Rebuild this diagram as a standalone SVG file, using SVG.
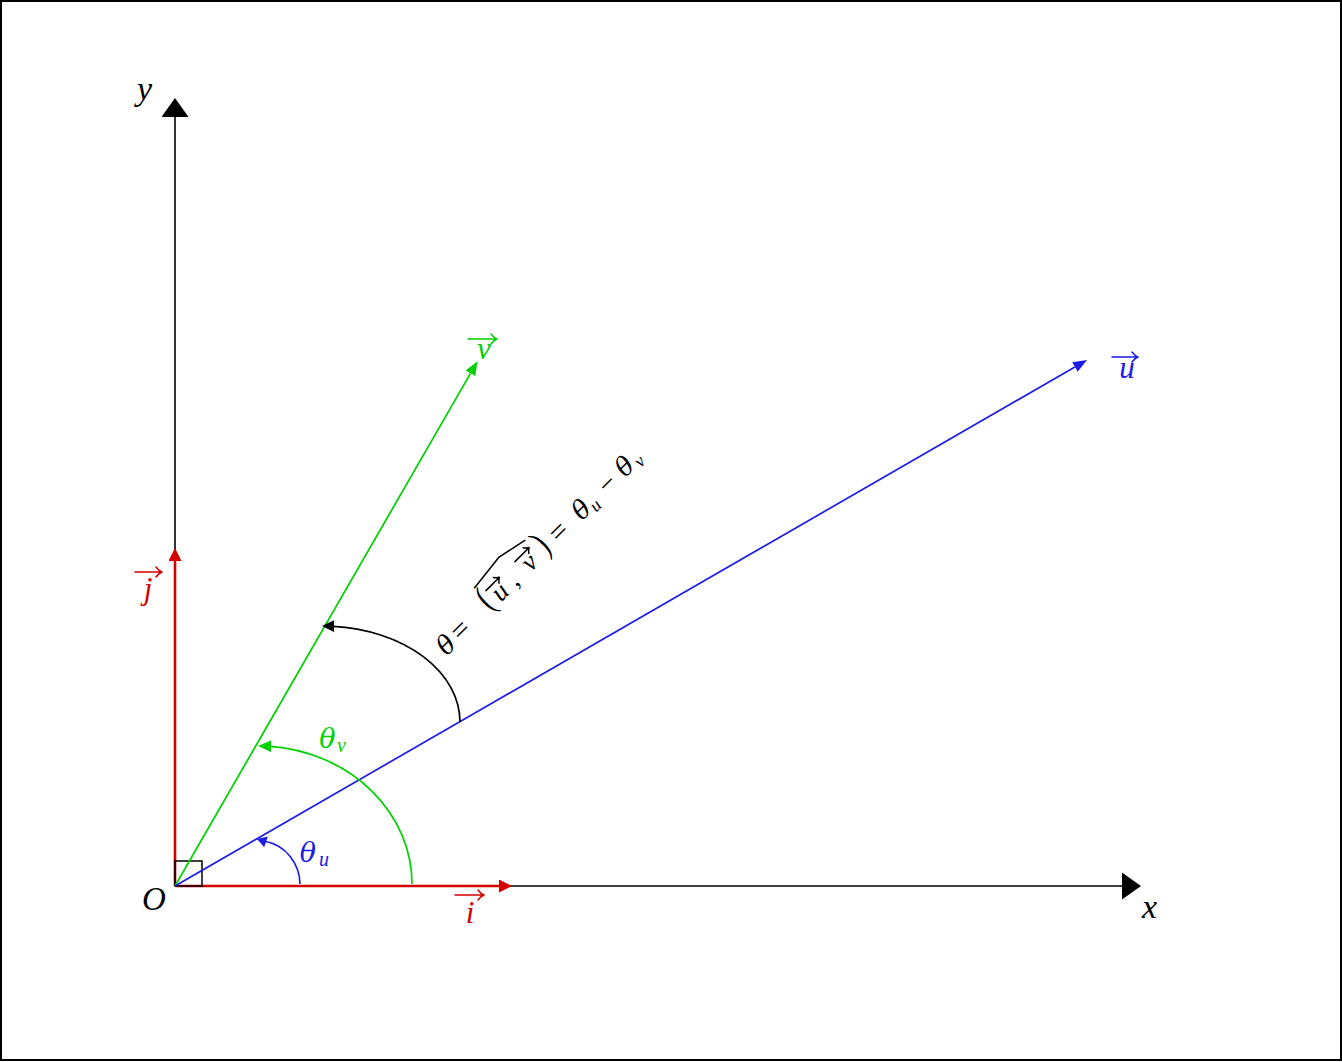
<svg xmlns="http://www.w3.org/2000/svg" width="1342" height="1062" viewBox="0 0 1342 1062">
<style>
.m{font-family:"Liberation Serif","Times New Roman",serif;font-style:italic}
.g{font-family:"DejaVu Serif","Liberation Serif",serif;font-style:italic}
.r{font-family:"Liberation Serif","Times New Roman",serif;font-style:normal}
.acc{fill:none;stroke-width:1.5;stroke-linecap:round;stroke-linejoin:round}
.ln{fill:none}
</style>
<defs>
<marker id="ak" viewBox="0 0 19 27" refX="0" refY="13.5" markerWidth="19" markerHeight="27" markerUnits="userSpaceOnUse" orient="auto"><path d="M0,0 L19,13.5 L0,27 Z" fill="#000"/></marker>
<marker id="ar" viewBox="0 0 13 13" refX="0" refY="6.5" markerWidth="13" markerHeight="13" markerUnits="userSpaceOnUse" orient="auto"><path d="M0,0 L13,6.5 L0,13 Z" fill="#d40000"/></marker>
<marker id="ag" viewBox="0 0 14 11" refX="0" refY="5.5" markerWidth="14" markerHeight="11" markerUnits="userSpaceOnUse" orient="auto"><path d="M0,0 L14,5.5 L0,11 Z" fill="#00d000"/></marker>
<marker id="ab" viewBox="0 0 14 11" refX="0" refY="5.5" markerWidth="14" markerHeight="11" markerUnits="userSpaceOnUse" orient="auto"><path d="M0,0 L14,5.5 L0,11 Z" fill="#1c1ce6"/></marker>
</defs>
<rect x="1" y="1" width="1340" height="1059" fill="#fff" stroke="#000" stroke-width="2"/>

<g id="connectors">
  <line id="x-axis" x1="175" y1="886" x2="1122" y2="886" stroke="#000" stroke-width="1.6" marker-end="url(#ak)"/>
  <line id="y-axis" x1="175" y1="886" x2="175" y2="117" stroke="#000" stroke-width="1.6" marker-end="url(#ak)"/>
  <line id="vec-i" x1="175" y1="886" x2="499" y2="886" stroke="#d40000" stroke-width="2.6" marker-end="url(#ar)"/>
  <line id="vec-j" x1="175" y1="886" x2="175" y2="561" stroke="#d40000" stroke-width="2.6" marker-end="url(#ar)"/>
  <rect id="right-angle" x="175" y="861" width="27" height="25" fill="none" stroke="#000" stroke-width="1.5"/>
  <line id="vec-v" x1="175" y1="886" x2="470.5" y2="373.3" stroke="#00d000" stroke-width="1.7" marker-end="url(#ag)"/>
  <line id="vec-u" x1="175" y1="886" x2="1074.9" y2="367" stroke="#1c1ce6" stroke-width="1.7" marker-end="url(#ab)"/>
  <g id="arc-theta-u">
    <path d="M300,884 A42,44 0 0 0 266,841.5" class="ln" stroke="#1c1ce6" stroke-width="1.7"/>
    <path d="M257,839 L267.8,836.6 L264.2,847.2 Z" fill="#1c1ce6"/>
  </g>
  <g id="arc-theta-v">
    <path d="M412,884 A154,138 0 0 0 270,746.4" class="ln" stroke="#00d000" stroke-width="1.7"/>
    <path d="M258,746 L271,740.5 L271,752 Z" fill="#00d000"/>
  </g>
  <g id="arc-theta">
    <path d="M460,722 A137,96 0 0 0 333,626.3" class="ln" stroke="#000" stroke-width="1.7"/>
    <path d="M322,626 L334,620.3 L334,632 Z" fill="#000"/>
  </g>
</g>

<g id="label-O"><text x="142" y="910" class="m" font-size="33">O</text></g>
<g id="label-x"><text x="1142" y="918" class="m" font-size="34">x</text></g>
<g id="label-y"><text x="137" y="100" class="m" font-size="34">y</text></g>

<g id="label-i" fill="#d40000">
  <text x="470" y="923" class="m" font-size="31" text-anchor="middle">i</text>
  <path class="acc" stroke="#d40000" d="M455,895 H484 M478,890 Q481,894 484,895 Q481,896 478,900"/>
</g>
<g id="label-j" fill="#d40000">
  <text x="148" y="599" class="m" font-size="31" text-anchor="middle">j</text>
  <path class="acc" stroke="#d40000" d="M135,572 H162 M156,567 Q159,571 162,572 Q159,573 156,577"/>
</g>
<g id="label-u" fill="#1c1ce6">
  <text x="1127" y="378" class="m" font-size="31" text-anchor="middle">u</text>
  <path class="acc" stroke="#1c1ce6" d="M1112,357 H1138 M1132,352 Q1135,356 1138,357 Q1135,358 1132,362"/>
</g>
<g id="label-v" fill="#00d000">
  <text x="484" y="359" class="m" font-size="31" text-anchor="middle">v</text>
  <path class="acc" stroke="#00d000" d="M468,339 H497 M491,334 Q494,338 497,339 Q494,340 491,344"/>
</g>
<g id="label-theta-u" fill="#1c1ce6">
  <text x="308" y="862" class="g" font-size="27" text-anchor="middle">θ</text>
  <text x="324" y="866" class="m" font-size="20" text-anchor="middle">u</text>
</g>
<g id="label-theta-v" fill="#00d000">
  <text x="327.5" y="748" class="g" font-size="27" text-anchor="middle">θ</text>
  <text x="341.5" y="752" class="m" font-size="20" text-anchor="middle">v</text>
</g>

<g id="label-theta" transform="translate(551.75,551.75) rotate(-45)" fill="#000">
  <text x="-140.7" y="0" class="g" font-size="26" text-anchor="middle">θ</text>
  <text x="-119.8" y="0" class="r" font-size="30" text-anchor="middle">=</text>
  <text x="-81.3" y="0" class="r" font-size="27" text-anchor="middle" transform="translate(0,-2) scale(1,1.4)">(</text>
  <text x="-65" y="0" class="m" font-size="27" text-anchor="middle">u</text>
  <text x="-47.2" y="0" class="r" font-size="27" text-anchor="middle">,</text>
  <text x="-23.5" y="0" class="m" font-size="27" text-anchor="middle">v</text>
  <text x="-2.3" y="0" class="r" font-size="27" text-anchor="middle" transform="translate(0,-2) scale(1,1.4)">)</text>
  <text x="18.9" y="0" class="r" font-size="30" text-anchor="middle">=</text>
  <text x="50.7" y="0" class="g" font-size="26" text-anchor="middle">θ</text>
  <text x="63.5" y="4" class="m" font-size="18" text-anchor="middle">u</text>
  <text x="87.3" y="0" class="r" font-size="28" text-anchor="middle">−</text>
  <text x="111.9" y="0" class="g" font-size="26" text-anchor="middle">θ</text>
  <text x="126" y="4" class="m" font-size="18" text-anchor="middle">v</text>
  <path class="acc" stroke="#000" stroke-width="1.3" d="M-74,-19 H-55 M-59.5,-23 Q-57,-19.8 -55,-19 Q-57,-18.2 -59.5,-15"/>
  <path class="acc" stroke="#000" stroke-width="1.3" d="M-33,-19 H-13 M-17.5,-23 Q-15,-19.8 -13,-19 Q-15,-18.2 -17.5,-15"/>
  <path class="acc" stroke="#000" stroke-width="1.3" d="M-80,-29 L-41,-33.5 L-11,-27"/>
</g>
</svg>
